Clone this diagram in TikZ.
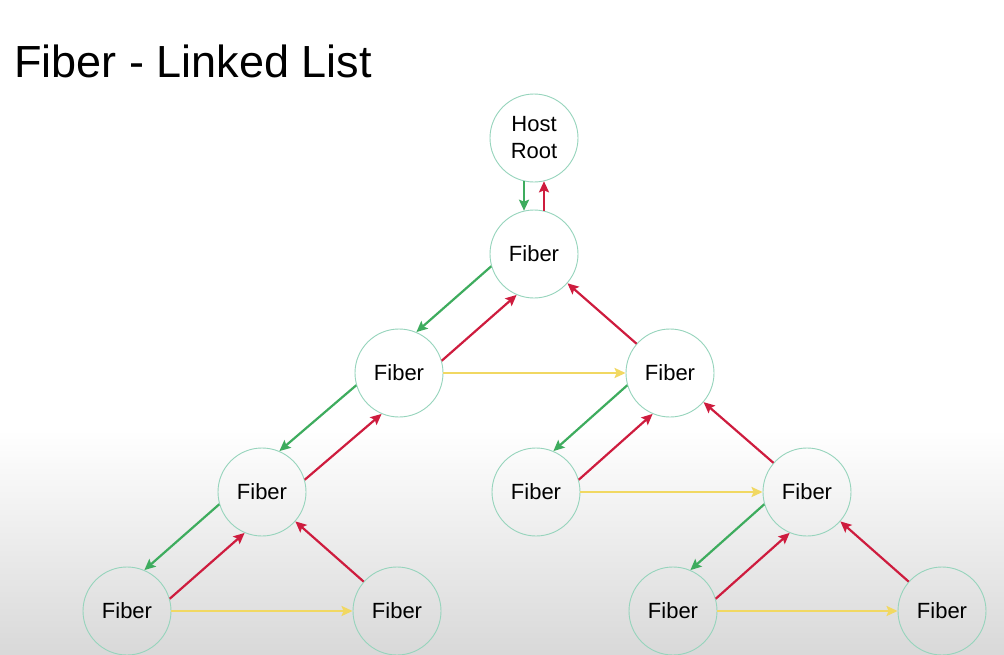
\documentclass[tikz,border=0pt]{standalone}
\usepackage{fontspec}
\setmainfont{Liberation Sans}
\usepackage{tikz}
\usetikzlibrary{arrows, arrows.meta}
\definecolor{childgreen}{RGB}{62,172,94}
\definecolor{returnred}{RGB}{206,28,62}
\definecolor{siblingyellow}{RGB}{241,216,98}
\definecolor{ringgreen}{RGB}{150,212,188}
\tikzstyle{fiber}     = [circle, minimum size=88pt, inner sep=0pt, align=center, draw=ringgreen, line width=0.9pt, font=\fontsize{22}{27}\selectfont]
\tikzstyle{childarrow}   = [line width=2.2pt, draw=childgreen, ->, >={Stealth[length=11pt, width=10pt, inset=2pt]}]
\tikzstyle{returnarrow}  = [line width=2.2pt, draw=returnred, ->, >={Stealth[length=11pt, width=10pt, inset=2pt]}]
\tikzstyle{siblingarrow} = [line width=2.2pt, draw=siblingyellow, ->, >={Stealth[length=11pt, width=10pt, inset=2pt]}]

\begin{document}
\begin{tikzpicture}[x=1pt, y=-1pt, node distance=119pt]
    \useasboundingbox (0,0) rectangle (1004,654);
    \fill [white] (0,0) rectangle (1004,430);
    \shade [top color=white, bottom color=gray!30] (0,430) rectangle (1004,654);

    \node (title) [anchor=base west, inner sep=0pt, font=\fontsize{45}{50}\selectfont] at (14,77) {Fiber - Linked List};

    \node (H)    [fiber] at (534,138)                   {Host\\Root};
    \node (F)    [fiber, below of=H, yshift=3pt]        {Fiber};
    \node (F1)   [fiber, below of=F, xshift=-135pt]     {Fiber};
    \node (F2)   [fiber, below of=F, xshift=136pt]      {Fiber};
    \node (F11)  [fiber, below of=F1, xshift=-137pt]    {Fiber};
    \node (F21)  [fiber, below of=F2, xshift=-134pt]    {Fiber};
    \node (F22)  [fiber, below of=F2, xshift=137pt]     {Fiber};
    \node (F111) [fiber, below of=F11, xshift=-135pt]   {Fiber};
    \node (F112) [fiber, below of=F11, xshift=135pt]    {Fiber};
    \node (F221) [fiber, below of=F22, xshift=-134pt]   {Fiber};
    \node (F222) [fiber, below of=F22, xshift=135pt]    {Fiber};

    \draw [childarrow]  (H.257) -- (F.103);
    \draw [returnarrow] (F.77) -- (H.283);

    \draw [childarrow]  (F.196) -- (F1.67);
    \draw [returnarrow] (F1.16) -- (F.247);
    \draw [childarrow]  (F1.196) -- (F11.67);
    \draw [returnarrow] (F11.16) -- (F1.247);
    \draw [childarrow]  (F11.196) -- (F111.67);
    \draw [returnarrow] (F111.16) -- (F11.247);
    \draw [childarrow]  (F2.196) -- (F21.67);
    \draw [returnarrow] (F21.16) -- (F2.247);
    \draw [childarrow]  (F22.196) -- (F221.67);
    \draw [returnarrow] (F221.16) -- (F22.247);

    \draw [returnarrow] (F2) -- (F);
    \draw [returnarrow] (F112) -- (F11);
    \draw [returnarrow] (F22) -- (F2);
    \draw [returnarrow] (F222) -- (F22);

    \draw [siblingarrow] (F1) -- (F2);
    \draw [siblingarrow] (F111) -- (F112);
    \draw [siblingarrow] (F21) -- (F22);
    \draw [siblingarrow] (F221) -- (F222);
\end{tikzpicture}
\end{document}
